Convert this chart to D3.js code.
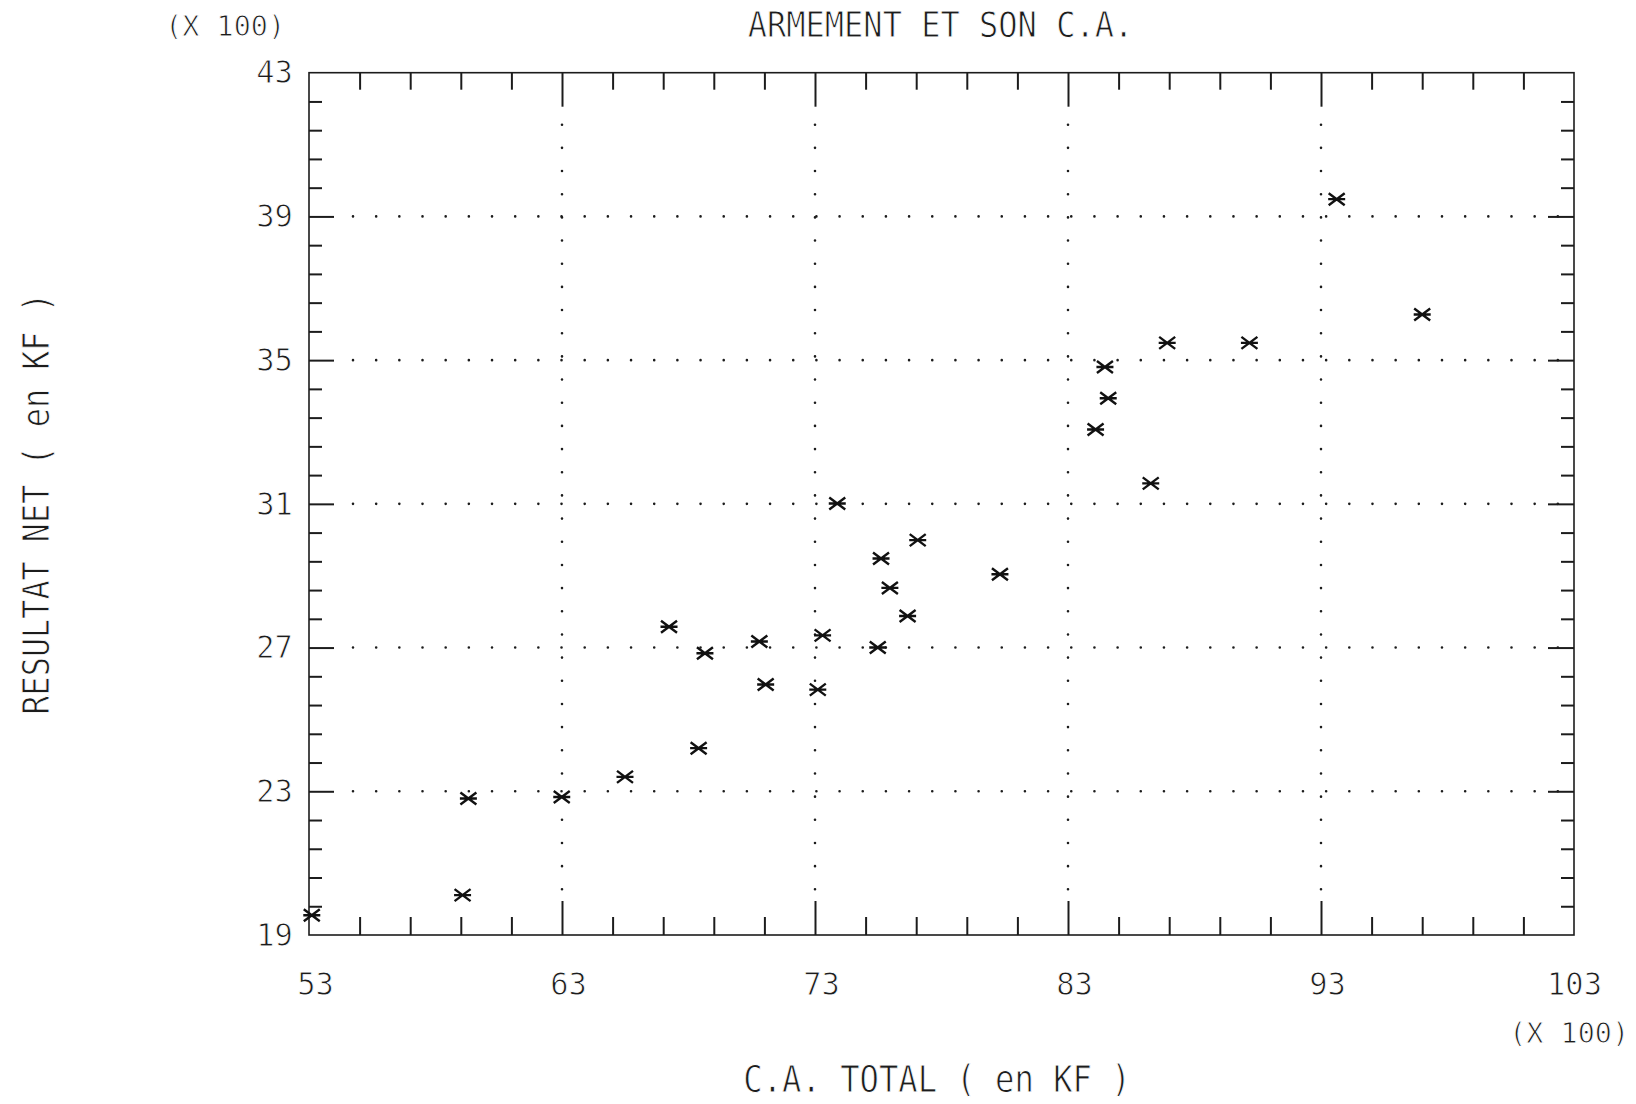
<!DOCTYPE html>
<html>
<head>
<meta charset="utf-8">
<script src="https://cdn.jsdelivr.net/npm/d3@7/dist/d3.min.js"></script>
<style>
	body { margin: 0; background: #fff; }
	svg { display: block; }
	text { font-family: "DejaVu Sans Mono", monospace; fill: #1c1c1c; stroke: #fff; stroke-width: 0.9px; paint-order: normal; }
</style>
</head>
<body>
<svg width="1636" height="1104"></svg>
<script>
'use strict';

// C.A. total and resultat net, both in hundreds of KF, one entry per company
var caTotal     = [53.11, 59.07, 59.30, 62.99, 65.49, 67.23, 68.40, 68.65, 70.80, 71.05, 73.11, 73.30, 73.88, 75.48,
                   75.61, 75.96, 76.66, 77.06, 80.31, 84.09, 84.46, 84.59, 86.27, 86.92, 90.17, 93.62, 97.00];
var resultatNet = [19.55, 20.11, 22.80, 22.84, 23.40, 27.58, 24.20, 26.84, 27.17, 25.97, 25.83, 27.34, 31.01, 27.00,
                   29.48, 28.66, 27.88, 29.99, 29.04, 33.07, 34.81, 33.94, 31.57, 35.48, 35.48, 39.48, 36.27];

// axis ticks
var xMajor = [53, 63, 73, 83, 93, 103];
var yMajor = [19, 23, 27, 31, 35, 39, 43];
var xGrid = [63, 73, 83, 93];
var yGrid = [23, 27, 31, 35, 39];
var xMinor = d3.range(55, 103, 2).filter(function (v) { return xMajor.indexOf(v) < 0; });
var yMinor = d3.range(1, 30).map(function (i) { return +(19 + i * 0.8).toFixed(1); })
	.filter(function (v) { return yMajor.indexOf(v) < 0; });

// texts
var titleText = 'ARMEMENT ET SON C.A.';
var xTitle = 'C.A. TOTAL ( en KF )';
var yTitle = 'RESULTAT NET ( en KF )';
var unitText = '(X 100)';

var svg = d3.select('svg');
var ink = '#1c1c1c';

var x = d3.scaleLinear().domain([53, 103]).range([309, 1574]);
var y = d3.scaleLinear().domain([19, 43]).range([935, 72.7]);

/**
 * Dotted grid lines, drawn as round-capped zero-length dashes
 */
var dots = svg.append('g').attr('class', 'grid')
	.attr('stroke', ink).attr('stroke-width', 2.6)
	.attr('stroke-linecap', 'round').attr('stroke-dasharray', '0,23.17');

dots.selectAll('line.h').data(yGrid).enter().append('line')
	.attr('class', 'h')
	.attr('x1', x(53) + 44).attr('x2', x(103) - 14)
	.attr('y1', function (d) { return y(d); })
	.attr('y2', function (d) { return y(d); });

dots.selectAll('line.v').data(xGrid).enter().append('line')
	.attr('class', 'v')
	.attr('y1', y(43) + 52).attr('y2', y(19) - 45)
	.attr('x1', function (d) { return x(d); })
	.attr('x2', function (d) { return x(d); });

/**
 * Inward tick marks on all four sides of the frame
 */
function ticks(axisFn, values, size, transform) {
	var g = svg.append('g').attr('transform', transform)
		.call(axisFn.tickValues(values).tickSize(-size).tickSizeOuter(0).tickFormat(''));
	g.select('.domain').remove();
	g.selectAll('line').attr('stroke', ink).attr('stroke-width', 2);
	return g;
}

ticks(d3.axisBottom(x), xMinor, 18, 'translate(0,' + y(19) + ')');
ticks(d3.axisBottom(x), xGrid, 34, 'translate(0,' + y(19) + ')');
ticks(d3.axisTop(x), xMinor, 17, 'translate(0,' + y(43) + ')');
ticks(d3.axisTop(x), xGrid, 34, 'translate(0,' + y(43) + ')');
ticks(d3.axisLeft(y), yMinor, 13, 'translate(' + x(53) + ',0)');
ticks(d3.axisLeft(y), yGrid, 25, 'translate(' + x(53) + ',0)');
ticks(d3.axisRight(y), yMinor, 13, 'translate(' + x(103) + ',0)');
ticks(d3.axisRight(y), yGrid, 26, 'translate(' + x(103) + ',0)');

// frame
svg.append('rect')
	.attr('x', x(53)).attr('y', y(43))
	.attr('width', x(103) - x(53)).attr('height', y(19) - y(43))
	.attr('fill', 'none').attr('stroke', ink).attr('stroke-width', 1.6);

/**
 * Tick labels
 */
var xLabels = svg.append('g').attr('transform', 'translate(0,' + y(19) + ')')
	.call(d3.axisBottom(x).tickValues(xMajor).tickSize(0).tickPadding(37).tickFormat(d3.format('d')));
xLabels.select('.domain').remove();
xLabels.attr('font-family', null).attr('font-size', 32).attr('color', ink);
xLabels.selectAll('text')
	.attr('transform', function (d) { return 'translate(' + (d < 100 ? 6 : 0) + ',0) scale(0.95,1)'; });

var yLabels = svg.append('g').attr('transform', 'translate(' + x(53) + ',0)')
	.call(d3.axisLeft(y).tickValues(yMajor).tickSize(0).tickPadding(17).tickFormat(d3.format('d')));
yLabels.select('.domain').remove();
yLabels.attr('font-family', null).attr('font-size', 32).attr('color', ink);
yLabels.selectAll('text').attr('transform', 'scale(0.95,1)');

/**
 * Titles
 */
function label(txt, tx, ty, size, sx, anchor, rot) {
	svg.append('text')
		.attr('transform', 'translate(' + tx + ',' + ty + ')' + (rot ? ' rotate(' + rot + ')' : '') + ' scale(' + sx + ',1)')
		.attr('text-anchor', anchor)
		.attr('font-size', size)
		.text(txt);
}

label(titleText, (x(53) + x(103)) / 2 - 1, 37, 36, 0.89, 'middle');
label(xTitle, 937, 1092, 37, 0.87, 'middle');
label(yTitle, 49, (y(19) + y(43)) / 2, 37, 0.86, 'middle', -90);
label(unitText, 285, 36, 29, 0.98, 'end');
label(unitText, 1629, 1043, 29, 0.98, 'end');

/**
 * Points: plotter asterisk markers
 */
var points = caTotal.map(function (v, i) { return { ca: v, res: resultatNet[i] }; });

svg.append('g').attr('class', 'points')
	.selectAll('path').data(points).enter().append('path')
	.attr('transform', function (d) { return 'translate(' + x(d.ca) + ',' + y(d.res) + ')'; })
	.attr('d', 'M-8.5,0H8.5M-8,-6L8,6M-8,6L8,-6')
	.attr('fill', 'none').attr('stroke', '#111').attr('stroke-width', 2.4);
</script>
</body>
</html>
